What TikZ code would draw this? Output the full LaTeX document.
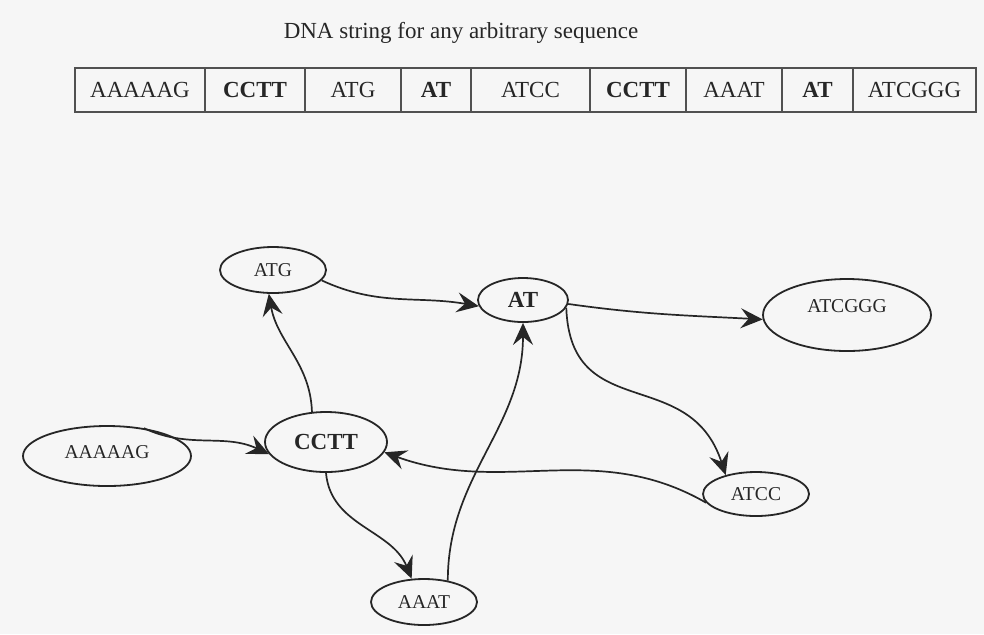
\documentclass[tikz,border=0pt]{standalone}
\usepackage{fontspec}
\setmainfont{Liberation Serif}
\usetikzlibrary{shapes.geometric,arrows.meta}
\definecolor{dnabg}{HTML}{F6F6F6}
\definecolor{dnaink}{HTML}{262626}
\begin{document}
\begin{tikzpicture}[x=0.5pt,y=-0.5pt]
            \tikzset{
            dna cell/.style={draw=dnaink!80,line width=0.7pt,minimum height=22pt,inner sep=0,text=dnaink,font=\fontsize{11.5}{13}\selectfont},
            dna node/.style={ellipse,draw=dnaink,line width=0.9pt,inner sep=0,text=dnaink,font=\fontsize{9.8}{11}\selectfont},
            dna bold/.style={dna node,font=\fontsize{11.5}{13}\selectfont\bfseries},
            dna edge/.style={line width=0.85pt,-{Stealth[length=11pt,width=10pt,inset=4pt]}}
            }
            \fill[dnabg] (0,0) rectangle (984,634);
            \useasboundingbox (0,0) rectangle (984,634);
            \node[text=dnaink,font=\fontsize{11.5}{13}\selectfont] (title) at (461,33) {DNA string for any arbitrary sequence};
            % the string
            \node[dna cell,minimum width=65pt] (cell1) at (140,90) {AAAAAG};
            \node[dna cell,minimum width=50pt,font=\fontsize{11.5}{13}\selectfont\bfseries] (cell2) at (255,90) {CCTT};
            \node[dna cell,minimum width=48pt] (cell3) at (353,90) {ATG};
            \node[dna cell,minimum width=35pt,font=\fontsize{11.5}{13}\selectfont\bfseries] (cell4) at (436,90) {AT};
            \node[dna cell,minimum width=59.5pt] (cell5) at (530.5,90) {ATCC};
            \node[dna cell,minimum width=48pt,font=\fontsize{11.5}{13}\selectfont\bfseries] (cell6) at (638,90) {CCTT};
            \node[dna cell,minimum width=48pt] (cell7) at (734,90) {AAAT};
            \node[dna cell,minimum width=35.5pt,font=\fontsize{11.5}{13}\selectfont\bfseries] (cell8) at (817.5,90) {AT};
            \node[dna cell,minimum width=61.5pt] (cell9) at (914.5,90) {ATCGGG};
            % the graph
            \node[dna node,minimum width=84pt,minimum height=30pt,text depth=4pt] (AAAAAG) at (107,456) {AAAAAG};
            \node[dna bold,minimum width=61pt,minimum height=30pt] (CCTT) at (326,442) {CCTT};
            \node[dna node,minimum width=53pt,minimum height=23pt] (ATG) at (273,270) {ATG};
            \node[dna bold,minimum width=45pt,minimum height=22pt] (AT) at (523,300) {AT};
            \node[dna node,minimum width=84pt,minimum height=36pt,text depth=9pt] (ATCGGG) at (847,315) {ATCGGG};
            \node[dna node,minimum width=53pt,minimum height=22pt] (ATCC) at (756,494) {ATCC};
            \node[dna node,minimum width=53pt,minimum height=23pt] (AAAT) at (424,602) {AAAT};

            \path[draw,dnaink]
            (AAAAAG.37) edge[dna edge,out=-25,in=155] (CCTT.192)
            (CCTT.115) edge[dna edge,out=92,in=-80] (ATG.-100)
            (ATG.-12) edge[dna edge,out=-25,in=170] (AT.188)
            (AT.-5) edge[dna edge,out=-8,in=177] (ATCGGG.183)
            (AT.-10) edge[dna edge,out=-88,in=108,looseness=1.3] (ATCC.148)
            (ATCC.190) edge[dna edge,out=150,in=-20] (CCTT.-10)
            (CCTT.-90) edge[dna edge,out=-85,in=112] (AAAT.118)
            (AAAT.42) edge[dna edge,out=90,in=-90] (AT.-90)
            ;
\end{tikzpicture}
\end{document}
